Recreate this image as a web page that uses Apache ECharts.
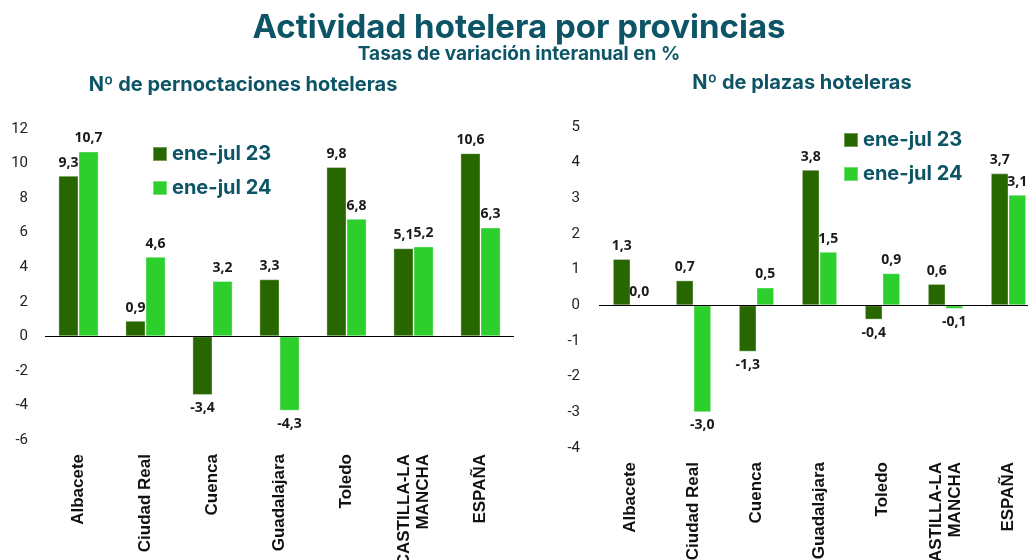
<!DOCTYPE html>
<html>
<head>
<meta charset="utf-8">
<script src="https://cdn.jsdelivr.net/npm/echarts@6/dist/echarts.min.js"></script>
<style>
  html, body { margin: 0; padding: 0; background: #fff; overflow: hidden; }
  #chart { width: 1060px; height: 560px; }
</style>
</head>
<body>
<div id="chart"></div>
<script>
// categories and values
var provincias = ['Albacete', 'Ciudad Real', 'Cuenca', 'Guadalajara', 'Toledo', 'CASTILLA-LA\nMANCHA', 'ESPAÑA'];
var serieNames = ['ene-jul 23', 'ene-jul 24'];

var pernoct23 = [9.3, 0.9, -3.4, 3.3, 9.8, 5.1, 10.6];
var pernoct24 = [10.7, 4.6, 3.2, -4.3, 6.8, 5.2, 6.3];

var plazas23 = [1.3, 0.7, -1.3, 3.8, -0.4, 0.6, 3.7];
var plazas24 = [0.0, -3.0, 0.5, 1.5, 0.9, -0.1, 3.1];

var darkGreen = '#286600';
var lightGreen = '#2dcf2d';
var teal = '#0d5566';

// the page is 1028 wide, the canvas a bit wider so the right chart runs off the edge
var chart = echarts.init(document.getElementById('chart'));

function toItems(arr) {
  return arr.map(function (v) {
    return {
      value: v,
      label: { position: v < 0 ? 'bottom' : 'top' }
    };
  });
}

var labelStyle = {
  show: true,
  distance: 6,
  fontFamily: 'Open Sans',
  fontWeight: 'bold',
  fontSize: 14,
  color: '#1a1a1a',
  formatter: function (p) { return p.value.toFixed(1).replace('.', ','); }
};

function barSeries(name, data, color, idx, withLine) {
  var s = {
    name: name,
    type: 'bar',
    xAxisIndex: idx,
    yAxisIndex: idx,
    data: toItems(data),
    barGap: '0%',
    barCategoryGap: idx === 0 ? '40%' : '44%',
    itemStyle: { color: color, borderColor: 'rgba(255,255,255,0.35)', borderWidth: 1 },
    label: labelStyle
  };
  if (withLine) {
    s.markLine = {
      silent: true,
      symbol: 'none',
      label: { show: false },
      lineStyle: { color: '#000', type: 'solid', width: 1.2 },
      data: [{ yAxis: 0 }]
    };
  }
  return s;
}

var catAxis = function (idx) {
  return {
    type: 'category',
    gridIndex: idx,
    data: provincias,
    position: 'bottom',
    axisLine: { show: false, onZero: false },
    axisTick: { show: false },
    axisLabel: {
      rotate: 90,
      interval: 0,
      margin: 14,
      fontFamily: 'Liberation Sans',
      fontWeight: 'bold',
      fontSize: 17,
      color: '#111',
      lineHeight: 19,
      align: 'right'
    }
  };
};

var valAxis = function (idx, min, max, interval, margin) {
  return {
    type: 'value',
    gridIndex: idx,
    min: min,
    max: max,
    interval: interval,
    splitLine: { show: false },
    axisLine: { show: false },
    axisTick: { show: false },
    axisLabel: {
      margin: margin,
      fontFamily: 'Roboto',
      fontSize: 15,
      color: '#222'
    }
  };
};

var titleFont = { fontFamily: 'Inter', fontWeight: 'bold', color: teal };

chart.setOption({
  animation: false,
  title: [
    {
      text: 'Actividad hotelera por provincias',
      left: 514,
      textAlign: 'center',
      top: 7,
      textStyle: Object.assign({ fontSize: 33 }, titleFont)
    },
    {
      text: 'Tasas de variación interanual en %',
      left: 514,
      textAlign: 'center',
      top: 40,
      textStyle: Object.assign({ fontSize: 19 }, titleFont)
    },
    {
      text: 'Nº de pernoctaciones hoteleras',
      left: 238,
      textAlign: 'center',
      top: 70,
      textStyle: Object.assign({ fontSize: 20 }, titleFont)
    },
    {
      text: 'Nº de plazas hoteleras',
      left: 797,
      textAlign: 'center',
      top: 68,
      textStyle: Object.assign({ fontSize: 20 }, titleFont)
    }
  ],
  legend: [
    {
      data: serieNames,
      orient: 'vertical',
      left: 147,
      top: 139,
      itemWidth: 14,
      itemHeight: 14,
      itemGap: 14,
      icon: 'rect',
      textStyle: Object.assign({ fontSize: 20 }, titleFont)
    },
    {
      data: serieNames,
      orient: 'vertical',
      left: 838,
      top: 125,
      itemWidth: 14,
      itemHeight: 14,
      itemGap: 14,
      icon: 'rect',
      textStyle: Object.assign({ fontSize: 20 }, titleFont)
    }
  ],
  grid: [
    { left: 45, top: 129, width: 469, height: 311, outerBoundsMode: 'none' },
    { left: 599, top: 127, width: 441, height: 321, outerBoundsMode: 'none' }
  ],
  xAxis: [catAxis(0), catAxis(1)],
  yAxis: [valAxis(0, -6, 12, 2, 17), valAxis(1, -4, 5, 1, 19)],
  series: [
    barSeries(serieNames[0], pernoct23, darkGreen, 0, true),
    barSeries(serieNames[1], pernoct24, lightGreen, 0, false),
    barSeries(serieNames[0], plazas23, darkGreen, 1, true),
    barSeries(serieNames[1], plazas24, lightGreen, 1, false)
  ]
});
</script>
</body>
</html>
